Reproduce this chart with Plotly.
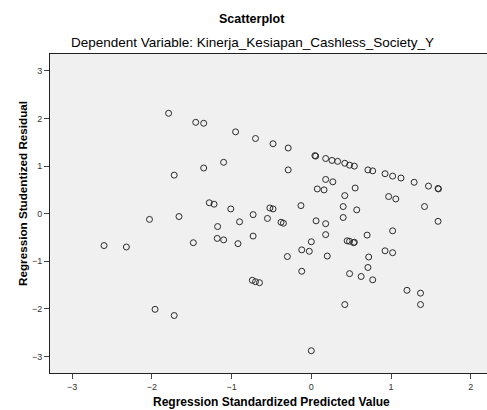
import plotly.graph_objects as go

# Regression Standardized Predicted Value (x) and Studentized Residual (y)
predicted = [
    -1.79, -1.45, -1.35, -0.95, -0.70, -0.48, -0.29, 0.045, 0.055, 0.18,
    0.26, 0.33, 0.42, 0.48, 0.54, 0.71, 0.77, 0.925, 1.02, 1.125,
    1.29, 1.47, 1.59, 1.595, -1.10, -1.35, -1.72, -0.29, 0.18, 0.27,
    0.075, 0.16, 0.55, 0.42, 0.97, 1.06, 1.42, -1.28, -1.22, -1.01,
    -0.13, 0.40, 0.57, -0.52, -0.48, -0.73, -1.66, -2.03, -0.90, -0.55,
    -0.38, -0.35, 0.06, 0.18, 0.40, 1.59, -1.175, 1.02, 0.18, 0.70,
    -0.73, -1.18, -1.10, -1.48, -0.92, -2.60, -2.32, 0.0, 0.45, 0.48,
    0.54, 0.53, -0.12, -0.025, -0.30, 0.20, 0.72, 0.925, 1.02, -0.12,
    0.48, 0.71, 0.625, 0.77, 1.20, 1.37, 1.37, 0.42, 0.0, -0.74,
    -0.70, -0.65, -1.96, -1.72,
]
residual = [
    2.11, 1.92, 1.90, 1.72, 1.58, 1.47, 1.38, 1.22, 1.21, 1.16,
    1.12, 1.10, 1.06, 1.02, 1.00, 0.92, 0.90, 0.84, 0.79, 0.75,
    0.66, 0.58, 0.53, 0.52, 1.08, 0.96, 0.81, 0.92, 0.72, 0.67,
    0.52, 0.50, 0.54, 0.38, 0.36, 0.31, 0.15, 0.23, 0.20, 0.10,
    0.17, 0.15, 0.08, 0.12, 0.10, -0.02, -0.06, -0.12, -0.17, -0.10,
    -0.18, -0.20, -0.15, -0.21, -0.08, -0.16, -0.27, -0.36, -0.44, -0.45,
    -0.47, -0.52, -0.55, -0.61, -0.63, -0.67, -0.70, -0.59, -0.57, -0.58,
    -0.60, -0.61, -0.76, -0.79, -0.90, -0.89, -0.91, -0.78, -0.82, -1.21,
    -1.26, -1.13, -1.32, -1.39, -1.61, -1.67, -1.91, -1.91, -2.88, -1.40,
    -1.43, -1.45, -2.01, -2.14,
]

x_ticks = [-3, -2, -1, 0, 1, 2]
y_ticks = [-3, -2, -1, 0, 1, 2, 3]

title_text = "Scatterplot"
subtitle_text = "Dependent Variable: Kinerja_Kesiapan_Cashless_Society_Y"
x_title = "Regression Standardized Predicted Value"
y_title = "Regression Studentized Residual"

W, H = 487, 410
L, R, T, B = 50, 0, 54, 37
pw, ph = W - L - R, H - T - B

def px(xp):
    return (xp - L) / pw

def py(yp):
    return (H - B - yp) / ph

FONT = "Liberation Sans, Arial, sans-serif"

fig = go.Figure()
fig.add_trace(go.Scatter(
    x=predicted, y=residual, mode="markers",
    marker=dict(symbol="circle-open", size=6, color="#2b2b2b",
                line=dict(width=1, color="#2b2b2b")),
    hoverinfo="skip", showlegend=False,
))

fig.update_layout(
    width=W, height=H,
    margin=dict(l=L, r=R, t=T, b=B, pad=0),
    paper_bgcolor="white", plot_bgcolor="#f0f0f0",
    font=dict(family=FONT, color="#333333"),
    showlegend=False,
    xaxis=dict(range=[-3.278, 2.204], tickvals=x_ticks, ticks="outside",
               ticklen=5, tickwidth=1, tickcolor="#444444",
               showgrid=False, zeroline=False, showline=True,
               linecolor="#222222", linewidth=1, mirror=True,
               tickfont=dict(size=9, color="#333333", family=FONT)),
    yaxis=dict(range=[-3.348, 3.356], tickvals=y_ticks, ticks="outside",
               ticklen=5, tickwidth=1, tickcolor="#444444",
               showgrid=False, zeroline=False, showline=True,
               linecolor="#222222", linewidth=1,
               tickfont=dict(size=9, color="#333333", family=FONT)),
    annotations=[
        dict(text="<b>" + title_text + "</b>", xref="paper", yref="paper",
             x=px(252), y=py(19), xanchor="center", yanchor="middle",
             showarrow=False, font=dict(size=12.5, color="#000000", family=FONT)),
        dict(text=subtitle_text, xref="paper", yref="paper",
             x=px(252), y=py(43), xanchor="center", yanchor="middle",
             showarrow=False, font=dict(size=13.5, color="#000000", family=FONT)),
        dict(text="<b>" + x_title + "</b>", xref="paper", yref="paper",
             x=px(271), y=py(402), xanchor="center", yanchor="middle",
             showarrow=False, font=dict(size=12, color="#000000", family=FONT)),
        dict(text="<b>" + y_title + "</b>", xref="paper", yref="paper",
             x=px(22), y=py(194), xanchor="center", yanchor="middle",
             textangle=-90, showarrow=False,
             font=dict(size=11.7, color="#000000", family=FONT)),
    ],
)

fig.write_html("out.html", config={"displayModeBar": False},
               post_script="document.body.style.margin='0px';")
